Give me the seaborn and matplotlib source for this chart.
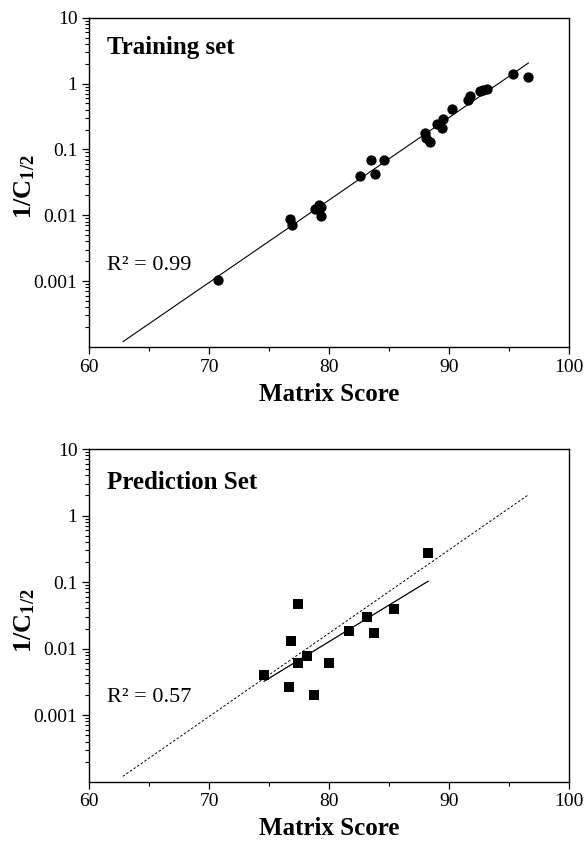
import numpy as np
import pandas as pd
import matplotlib
matplotlib.use("Agg")
import matplotlib.pyplot as plt
import matplotlib.ticker as mticker
import seaborn as sns

# training set: matrix score vs 1/C1/2
train_score = [70.75, 76.73, 76.92, 78.83, 79.14, 79.31, 79.31, 82.56, 83.48, 83.84,
               84.56, 87.98, 88.03, 88.39, 88.95, 89.37, 89.50, 90.25, 91.58, 91.73,
               92.56, 92.83, 93.12, 95.33, 96.58]
train_inv_c = [0.00103, 0.0087, 0.0070, 0.0123, 0.0142, 0.0134, 0.0097, 0.039, 0.068, 0.042,
               0.068, 0.177, 0.151, 0.129, 0.247, 0.211, 0.286, 0.405, 0.556, 0.646,
               0.769, 0.790, 0.817, 1.38, 1.25]

# prediction set
pred_score = [88.25, 77.37, 85.39, 83.17, 81.67, 83.75, 76.78, 78.12, 77.37, 80.0,
              74.56, 76.62, 78.73]
pred_inv_c = [0.272, 0.0468, 0.0394, 0.0301, 0.0185, 0.0173, 0.0131, 0.0078, 0.0060, 0.0061,
              0.0040, 0.0026, 0.00197]

# trendline range of the training fit (extended backwards like excel)
train_fit_range = [62.8, 96.6]

y_ticks = [0.001, 0.01, 0.1, 1, 10]
y_tick_labels = ["0.001", "0.01", "0.1", "1", "10"]
x_ticks = [60, 70, 80, 90, 100]

sns.set_style("ticks")
plt.rcParams['font.family'] = ['Liberation Serif', 'DejaVu Serif']
plt.rcParams['mathtext.fontset'] = 'custom'
plt.rcParams['mathtext.rm'] = 'Liberation Serif'
plt.rcParams['mathtext.bf'] = 'Liberation Serif:bold'
for key in ['text.color', 'axes.labelcolor', 'xtick.color', 'ytick.color', 'axes.edgecolor']:
  plt.rcParams[key] = 'black'


def logFit(x, y, x_range):
  slope, intercept = np.polyfit(np.array(x), np.log10(np.array(y)), 1)
  xs = np.array(x_range)
  return xs, 10 ** (slope * xs + intercept)


def styleAxis(ax):
  ax.set_yscale("log")
  ax.set_xlim(60, 100)
  ax.set_ylim(1e-4, 10)
  ax.set_yticks(y_ticks)
  ax.set_yticklabels(y_tick_labels)
  ax.yaxis.set_minor_locator(mticker.LogLocator(base=10, subs=np.arange(2, 10), numticks=20))
  ax.yaxis.set_minor_formatter(mticker.NullFormatter())
  ax.set_xticks(x_ticks)
  ax.xaxis.set_minor_locator(mticker.MultipleLocator(5))
  ax.tick_params(which="major", direction="out", length=5, width=0.9, labelsize=14, colors="black")
  ax.tick_params(which="minor", direction="out", length=3, width=0.8, colors="black")
  for s in ax.spines.values():
    s.set_visible(True)
    s.set_linewidth(1.0)
    s.set_color("black")
  ax.set_xlabel("Matrix Score", fontsize=18, fontweight="bold", labelpad=5)
  ax.set_ylabel(r"$\mathbf{1/C_{1/2}}$", fontsize=19)
  # label sits close to the tick labels, slightly below the middle
  ax.yaxis.set_label_coords(-0.109, 0.485)


fig = plt.figure(figsize=(5.87, 8.44), dpi=100)
ax_top = fig.add_axes([0.152, 0.589, 0.818, 0.390])
ax_bot = fig.add_axes([0.152, 0.074, 0.818, 0.394])

train_df = pd.DataFrame({"score": train_score, "inv_c": train_inv_c})
pred_df = pd.DataFrame({"score": pred_score, "inv_c": pred_inv_c})

fx, fy = logFit(train_score, train_inv_c, train_fit_range)
px, py = logFit(pred_score, pred_inv_c, [min(pred_score), max(pred_score)])

# top: training set
sns.lineplot(x=fx, y=fy, ax=ax_top, color="black", linewidth=0.8, sort=False, estimator=None)
sns.scatterplot(data=train_df, x="score", y="inv_c", ax=ax_top, color="black", s=55,
                marker="o", linewidth=0, zorder=3)
styleAxis(ax_top)
ax_top.text(0.036, 0.889, "Training set", transform=ax_top.transAxes, fontsize=18,
            fontweight="bold", va="baseline")
ax_top.text(0.036, 0.235, "R² = 0.99", transform=ax_top.transAxes, fontsize=16, va="baseline")

# bottom: prediction set, training line dashed
sns.lineplot(x=fx, y=fy, ax=ax_bot, color="black", linewidth=0.7, linestyle=(0, (2.5, 2)),
             sort=False, estimator=None)
sns.lineplot(x=px, y=py, ax=ax_bot, color="black", linewidth=0.9, sort=False, estimator=None)
sns.scatterplot(data=pred_df, x="score", y="inv_c", ax=ax_bot, color="black", s=45,
                marker="s", linewidth=0, zorder=3)
styleAxis(ax_bot)
ax_bot.text(0.036, 0.880, "Prediction Set", transform=ax_bot.transAxes, fontsize=18,
            fontweight="bold", va="baseline")
ax_bot.text(0.036, 0.238, "R² = 0.57", transform=ax_bot.transAxes, fontsize=16, va="baseline")

fig.savefig("out.png", dpi=100)
